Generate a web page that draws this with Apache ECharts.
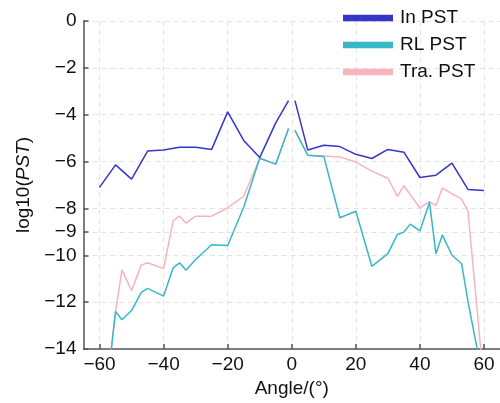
<!DOCTYPE html>
<html>
<head>
<meta charset="utf-8">
<script src="https://cdn.jsdelivr.net/npm/echarts@6/dist/echarts.min.js"></script>
<style>
  html, body { margin: 0; padding: 0; background: #fff; }
  #main-chart { width: 500px; height: 403px; }
</style>
</head>
<body>
<div id="main-chart"></div>
<script>
// values (log10 of PST), null = gap at 0°
const inAngles = [-60, -55, -50, -45, -40, -35, -30, -25, -20, -15, -10, -5, -1, 0, 1, 5, 10, 15, 20, 25, 30, 35, 40, 45, 50, 55, 60]
const inPst = [-7.10, -6.14, -6.75, -5.55, -5.51, -5.39, -5.39, -5.48, -3.88, -5.10, -5.83, -4.35, -3.40, null, -3.40, -5.51, -5.30, -5.36, -5.69, -5.87, -5.48, -5.60, -6.68, -6.58, -6.07, -7.19, -7.24]

const rlAngles = [-60, -55, -53, -50, -47, -45, -40, -37, -35, -33, -30, -25, -20, -15, -10, -5, -1, 0, 1, 5, 10, 15, 20, 25, 30, 33, 35, 37, 40, 43, 45, 47, 50, 53, 55, 60]
const rlPst = [-18.5, -12.4, -12.75, -12.36, -11.59, -11.41, -11.74, -10.53, -10.32, -10.64, -10.18, -9.55, -9.58, -7.95, -5.86, -6.11, -4.59, null, -4.67, -5.73, -5.78, -8.40, -8.12, -10.47, -9.93, -9.11, -9.01, -8.67, -8.96, -7.74, -9.93, -9.13, -10.0, -10.35, -11.97, -15.5]

const traAngles = [-60, -55, -53, -50, -47, -45, -40, -37, -35, -33, -30, -25, -20, -15, -10, -5, -1, 0, 1, 5, 10, 15, 20, 25, 30, 33, 35, 40, 43, 45, 47, 53, 55, 60]
const traPst = [-18.5, -12.4, -10.62, -11.51, -10.42, -10.32, -10.57, -8.52, -8.33, -8.63, -8.33, -8.33, -7.97, -7.48, -5.86, -6.11, -4.59, null, -4.67, -5.73, -5.76, -5.80, -6.02, -6.41, -6.71, -7.49, -7.03, -7.98, -7.71, -7.88, -7.13, -7.60, -8.10, -15.5]

const xTicks = [-60, -40, -20, 0, 20, 40, 60]
const yTicks = [0, -2, -4, -6, -8, -9, -10, -12, -14]

const FONT = '"Liberation Sans", Arial, sans-serif'

const pairs = (xs, ys) => xs.map((x, i) => [x, ys[i]])
const minus = v => (v < 0 ? '\u2212' + (-v) : String(v))

const axisCommon = {
  type: 'value',
  axisLine: { show: true, onZero: false, lineStyle: { color: '#555', width: 1.5 } },
  axisTick: { show: true, inside: true, length: 5, lineStyle: { color: '#555', width: 1.5 } },
  axisLabel: { color: '#111', fontSize: 19, fontFamily: FONT, formatter: minus },
  splitLine: { show: true, lineStyle: { color: '#e3e3e3', type: [5, 4], width: 1 } },
  nameLocation: 'middle',
  nameTextStyle: { color: '#111', fontSize: 19, fontFamily: FONT },
}

const chart = echarts.init(document.getElementById('main-chart'))
chart.setOption({
  animation: false,
  grid: { left: 83.5, right: 0, top: 21, bottom: 52, containLabel: false },
  legend: {
    orient: 'vertical',
    left: 343,
    top: 8,
    padding: 0,
    itemGap: 7,
    itemWidth: 50,
    itemHeight: 6.5,
    icon: 'rect',
    data: ['In PST', 'RL PST', 'Tra. PST'],
    textStyle: { color: '#111', fontSize: 19, fontFamily: FONT, padding: [0, 0, 0, 2], lineHeight: 20 },
  },
  xAxis: {
    ...axisCommon,
    min: -65,
    max: 65,
    name: 'Angle/(°)',
    nameGap: 30,
    axisLabel: { ...axisCommon.axisLabel, margin: 6, customValues: xTicks },
    axisTick: { ...axisCommon.axisTick, customValues: xTicks },
  },
  yAxis: {
    ...axisCommon,
    min: -14,
    max: 0,
    name: '{a|log10(}{b|PST}{a|)}',
    nameGap: 46,
    nameTextStyle: {
      ...axisCommon.nameTextStyle,
      rich: {
        a: { fontSize: 19, fontFamily: FONT, color: '#111' },
        b: { fontSize: 19, fontFamily: FONT, color: '#111', fontStyle: 'italic' },
      },
    },
    axisLabel: { ...axisCommon.axisLabel, margin: 7, customValues: yTicks },
    axisTick: { ...axisCommon.axisTick, customValues: yTicks },
  },
  series: [
    {
      name: 'In PST', type: 'line', z: 4, showSymbol: false, connectNulls: false,
      color: '#3535c8', lineStyle: { width: 1.5 },
      data: pairs(inAngles, inPst),
    },
    {
      name: 'RL PST', type: 'line', z: 3, showSymbol: false, connectNulls: false,
      color: '#36b8c6', lineStyle: { width: 1.5 },
      data: pairs(rlAngles, rlPst),
    },
    {
      name: 'Tra. PST', type: 'line', z: 2, showSymbol: false, connectNulls: false,
      color: '#f8b4bc', lineStyle: { width: 1.5 },
      data: pairs(traAngles, traPst),
    },
  ],
})
</script>
</body>
</html>
